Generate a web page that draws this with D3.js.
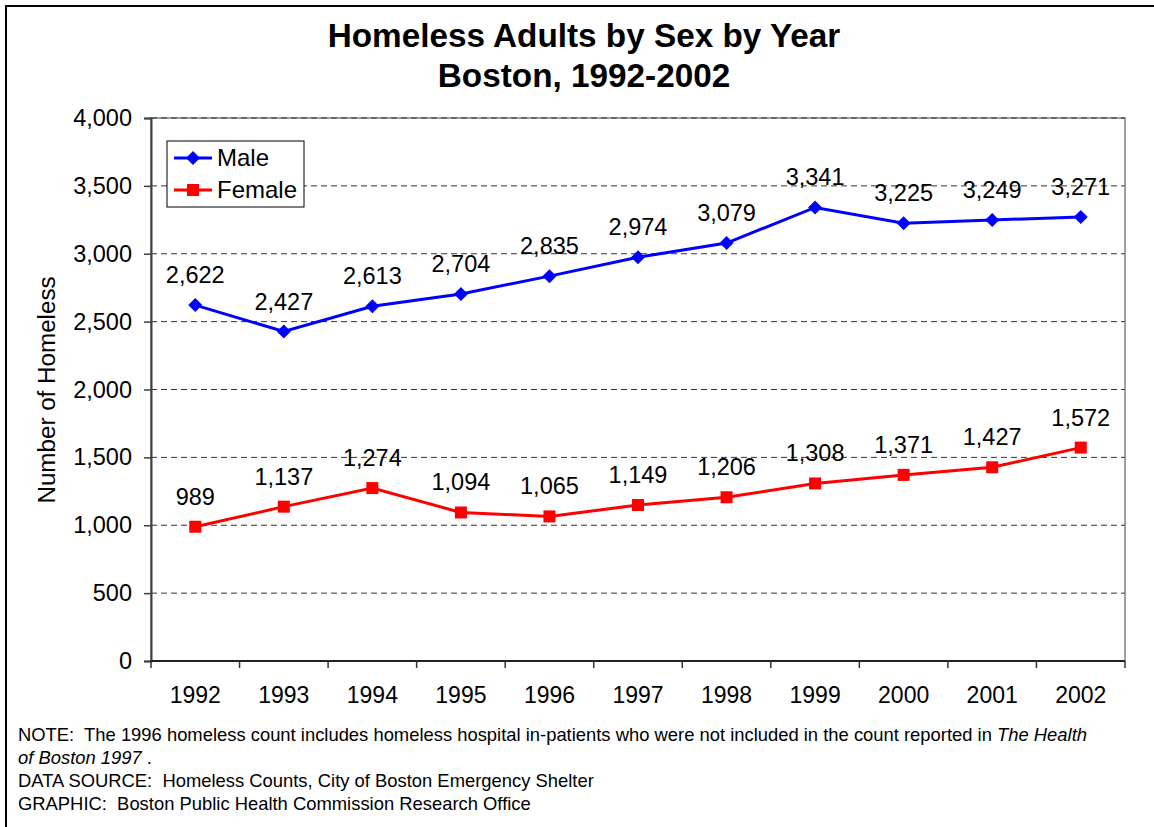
<!DOCTYPE html>
<html>
<head>
<meta charset="utf-8">
<script src="https://cdn.jsdelivr.net/npm/d3@7"></script>
<style>
  html, body { margin: 0; padding: 0; background: #fff; }
  svg { display: block; font-family: "Liberation Sans", Arial, sans-serif; }
  .pre { white-space: pre; }
</style>
</head>
<body>
<svg id="chart" width="1154" height="827"></svg>
<script>
const years = ["1992","1993","1994","1995","1996","1997","1998","1999","2000","2001","2002"];
const male = [2622, 2427, 2613, 2704, 2835, 2974, 3079, 3341, 3225, 3249, 3271];
const female = [989, 1137, 1274, 1094, 1065, 1149, 1206, 1308, 1371, 1427, 1572];
const yTicks = [0, 500, 1000, 1500, 2000, 2500, 3000, 3500, 4000];
const seriesNames = ["Male", "Female"];

(function () {
const svg = d3.select("#chart");
const pL = 151, pR = 1125, pT = 118, pB = 661;

// outer frame
svg.append("rect").attr("x", 6).attr("y", 6).attr("width", 1200).attr("height", 900)
  .attr("fill", "none").attr("stroke", "#000").attr("stroke-width", 2);

const x = d3.scaleBand().domain(years).range([pL, pR]);
const y = d3.scaleLinear().domain([0, 4000]).range([pB, pT]);
const fmt = d3.format(",");

// plot border
svg.append("rect").attr("x", pL).attr("y", pT).attr("width", pR - pL).attr("height", pB - pT)
  .attr("fill", "none").attr("stroke", "#808080").attr("stroke-width", 1.5);

// gridlines
svg.append("g").selectAll("line").data(yTicks.filter(d => d > 0)).join("line")
  .attr("x1", pL).attr("x2", pR)
  .attr("y1", d => y(d)).attr("y2", d => y(d))
  .attr("stroke", "#333").attr("stroke-width", 1).attr("stroke-dasharray", "6,4");

// y axis
const yAxis = svg.append("g").attr("transform", `translate(${pL},0)`)
  .call(d3.axisLeft(y).tickValues(yTicks).tickFormat(fmt).tickSize(7).tickPadding(12));
yAxis.select(".domain").attr("stroke", "#404040").attr("stroke-width", 2);
yAxis.selectAll(".tick line").attr("stroke", "#404040").attr("stroke-width", 1.5);
yAxis.selectAll("text").attr("font-size", 23.5).attr("fill", "#000")
  .attr("font-family", "Liberation Sans, Arial, sans-serif");

// x axis
const xAxis = svg.append("g").attr("transform", `translate(0,${pB})`)
  .call(d3.axisBottom(x).tickSize(0).tickPadding(0));
xAxis.select(".domain").remove();
xAxis.selectAll("text").attr("font-size", 23).attr("fill", "#000")
  .attr("font-family", "Liberation Sans, Arial, sans-serif")
  .attr("dy", null).attr("y", 42);
svg.append("line").attr("x1", pL - 1).attr("x2", pR).attr("y1", pB).attr("y2", pB)
  .attr("stroke", "#222").attr("stroke-width", 2);
const bounds = years.map(d => x(d)).concat([pR]);
svg.append("g").selectAll("line").data(bounds).join("line")
  .attr("x1", d => d).attr("x2", d => d).attr("y1", pB).attr("y2", pB + 7)
  .attr("stroke", "#333").attr("stroke-width", 1.5);

const cx = d => x(d) + x.bandwidth() / 2;

function drawSeries(values, color, shape) {
  const line = d3.line().x((d, i) => cx(years[i])).y(d => y(d));
  svg.append("path").datum(values).attr("d", line)
    .attr("fill", "none").attr("stroke", color).attr("stroke-width", 3);
  const g = svg.append("g");
  values.forEach((v, i) => {
    const px = cx(years[i]), py = y(v);
    if (shape === "diamond") {
      g.append("path").attr("d", `M${px},${py - 7}L${px + 7},${py}L${px},${py + 7}L${px - 7},${py}Z`).attr("fill", color);
    } else {
      g.append("rect").attr("x", px - 6).attr("y", py - 6).attr("width", 12).attr("height", 12).attr("fill", color);
    }
    svg.append("text").attr("x", px).attr("y", py - 22).attr("text-anchor", "middle")
      .attr("font-size", 23.5).attr("fill", "#000").text(fmt(v));
  });
}
drawSeries(male, "#0000ff", "diamond");
drawSeries(female, "#ff0000", "square");

// legend
const lg = svg.append("g");
lg.append("rect").attr("x", 167).attr("y", 141).attr("width", 137).attr("height", 66)
  .attr("fill", "#fff").attr("stroke", "#000").attr("stroke-width", 1);
const legendColors = ["#0000ff", "#ff0000"];
seriesNames.forEach((n, i) => {
  const ly = 158 + i * 32;
  lg.append("line").attr("x1", 174).attr("x2", 212).attr("y1", ly).attr("y2", ly)
    .attr("stroke", legendColors[i]).attr("stroke-width", 3);
  if (i === 0) {
    lg.append("path").attr("d", `M193,${ly - 7}L200,${ly}L193,${ly + 7}L186,${ly}Z`).attr("fill", legendColors[i]);
  } else {
    lg.append("rect").attr("x", 187).attr("y", ly - 6).attr("width", 12).attr("height", 12).attr("fill", legendColors[i]);
  }
  lg.append("text").attr("x", 217).attr("y", ly + 8).attr("font-size", 24).attr("fill", "#000").text(n);
});

// title
svg.append("text").attr("x", 584).attr("y", 47).attr("text-anchor", "middle")
  .attr("font-size", 33.3).attr("font-weight", "bold").text("Homeless Adults by Sex by Year");
svg.append("text").attr("x", 584).attr("y", 87).attr("text-anchor", "middle")
  .attr("font-size", 33.3).attr("font-weight", "bold").text("Boston, 1992-2002");

// y label
svg.append("text").attr("transform", "translate(55,390) rotate(-90)").attr("text-anchor", "middle")
  .attr("font-size", 24.2).text("Number of Homeless");

// footer
const fs = 18.4;
const n1 = svg.append("text").attr("class", "pre").attr("x", 18).attr("y", 741).attr("font-size", fs);
n1.append("tspan").text("NOTE:  The 1996 homeless count includes homeless hospital in-patients who were not included in the count reported in ");
n1.append("tspan").attr("font-style", "italic").text("The Health");
const n2 = svg.append("text").attr("class", "pre").attr("x", 18).attr("y", 764).attr("font-size", fs);
n2.append("tspan").attr("font-style", "italic").text("of Boston 1997");
n2.append("tspan").text(" .");
svg.append("text").attr("class", "pre").attr("x", 18).attr("y", 787).attr("font-size", fs).text("DATA SOURCE:  Homeless Counts, City of Boston Emergency Shelter");
svg.append("text").attr("class", "pre").attr("x", 18).attr("y", 810).attr("font-size", fs).text("GRAPHIC:  Boston Public Health Commission Research Office");
})();
</script>
</body>
</html>
